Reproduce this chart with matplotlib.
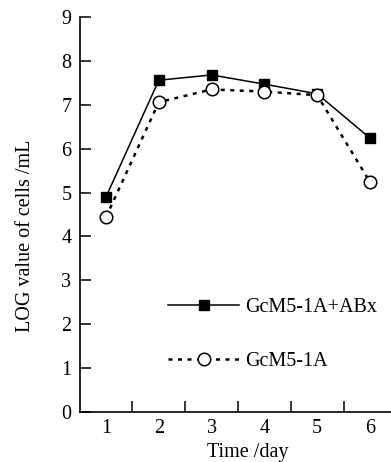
import matplotlib
matplotlib.use("Agg")
import matplotlib.pyplot as plt

plt.rcParams['font.family'] = ['Liberation Serif', 'DejaVu Serif']

days = [1, 2, 3, 4, 5, 6]
abx = [4.90, 7.56, 7.68, 7.47, 7.25, 6.24]
plain = [4.44, 7.06, 7.35, 7.30, 7.22, 5.24]
labels = ["GcM5-1A+ABx", "GcM5-1A"]

fig = plt.figure(figsize=(3.91, 4.62), dpi=100)
ax = fig.add_axes([0.2036, 0.1082, 0.8102, 0.855])

ax.plot(days, abx, color='black', lw=1.1, marker='s', markersize=7.5,
        markerfacecolor='black', label=labels[0], zorder=3)
ax.plot(days, plain, color='black', lw=1.8, linestyle=(0, (1.6, 2.2)),
        marker='o', markersize=9, markerfacecolor='white',
        markeredgewidth=1.1, label=labels[1], zorder=4)

ax.set_xlim(0.5, 6.5)
ax.set_ylim(0, 9)
ax.set_yticks(range(10))
ax.set_xticks(days)
ax.set_xticks([1.5, 2.5, 3.5, 4.5, 5.5], minor=True)
ax.tick_params(axis='x', which='major', length=0, pad=5, labelsize=14.5)
ax.tick_params(axis='x', which='minor', direction='in', length=8, width=1.1)
ax.tick_params(axis='y', direction='in', length=8, width=1.1, pad=6, labelsize=14.5)

for s in ['top', 'right']:
    ax.spines[s].set_visible(False)
for s in ['left', 'bottom']:
    ax.spines[s].set_linewidth(1.2)

ax.set_ylabel("LOG value of cells /mL", fontsize=14.5)
ax.yaxis.set_label_coords(-0.141, 0.446)
ax.set_xlabel("Time /day", fontsize=14.5)
ax.xaxis.set_label_coords(0.532, -0.078)

ax.legend(loc='upper left', bbox_to_anchor=(0.255, 0.31), frameon=False,
          fontsize=14.5, handlelength=3.5, handletextpad=0.3, labelspacing=1.75,
          borderaxespad=0)

fig.savefig("out.png", dpi=100)
